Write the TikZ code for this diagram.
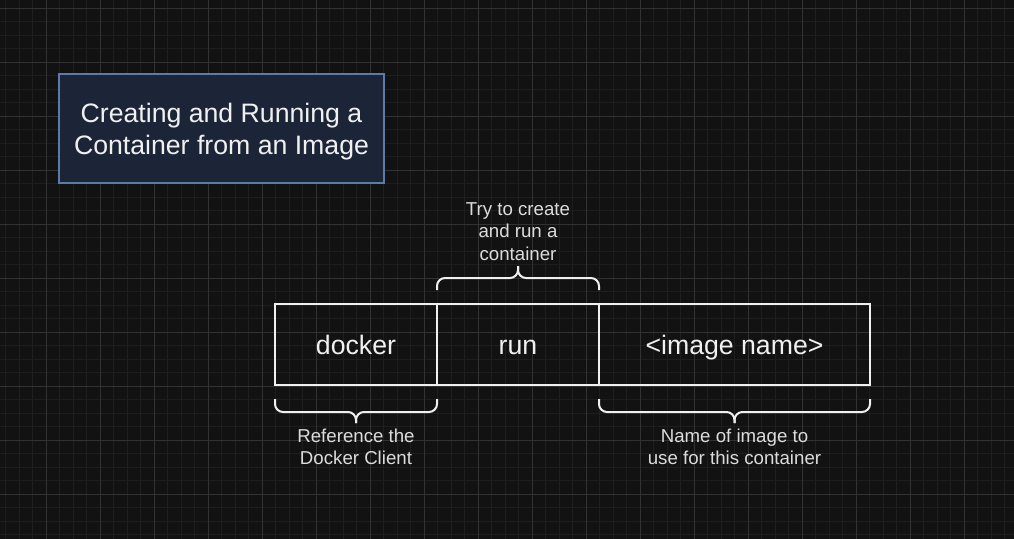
\documentclass[tikz,border=0pt]{standalone}
\usepackage{fontspec}
\setmainfont{Liberation Sans}
\usetikzlibrary{positioning,calc}
\definecolor{bgcol}{HTML}{121212}
\definecolor{minorcol}{HTML}{1E1E1E}
\definecolor{majorcol}{HTML}{323232}
\definecolor{titlefill}{HTML}{1C2538}
\definecolor{titledraw}{HTML}{5B7BAB}
\definecolor{inkcol}{HTML}{F0F0F0}
\definecolor{notecol}{HTML}{DCDCDC}

\begin{document}
\begin{tikzpicture}%
  [x=0.75pt,y=-0.75pt,
   brace line/.style={draw=inkcol,line width=1.5pt,rounded corners=6pt}]
  \tikzstyle{title box}=[rectangle,draw=titledraw,fill=titlefill,line width=1.5pt,
    minimum width=243.75pt,minimum height=81.75pt,align=center,text=inkcol,
    font=\fontsize{20}{24}\selectfont]
  \tikzstyle{word box}=[rectangle,draw=inkcol,line width=1.5pt,outer sep=0pt,
    minimum height=60.75pt,text=inkcol,text height=14.4pt,text depth=0pt,
    font=\fontsize{20}{24}\selectfont]
  \tikzstyle{note}=[align=center,inner sep=0pt,text=notecol,
    font=\fontsize{14}{16.8}\selectfont]
  \useasboundingbox (0,0) rectangle (1014,539);
  \fill[bgcol] (0,0) rectangle (1014,539);
  % grid
  \foreach \i in {0,...,76}
    \draw[minorcol,line width=0.75pt] ({-8+13.5*\i},0) -- ({-8+13.5*\i},539);
  \foreach \i in {0,...,41}
    \draw[minorcol,line width=0.75pt] (0,{-5.5+13.5*\i}) -- (1014,{-5.5+13.5*\i});
  \foreach \i in {0,...,19}
    \draw[majorcol,line width=0.75pt] ({-8+54*\i},0) -- ({-8+54*\i},539);
  \foreach \i in {0,...,9}
    \draw[majorcol,line width=0.75pt] (0,{8+54*\i}) -- (1014,{8+54*\i});
  % title
  \node(title)[title box] at (221.5,128.5)
    {\rule{0pt}{19pt}Creating and Running a\\Container from an Image};
  % command parts
  \node(docker)[word box,minimum width=121.5pt] at (356,344.5){docker};
  \node(run)[word box,minimum width=121.5pt,right=0pt of docker]{run};
  \node(image)[word box,minimum width=203.25pt,right=0pt of run]{<image name>};
  % braces
  \draw[brace line] ($(run.north west)+(0,-14)$) |- ($(run.north)+(0,-26)$)
    -- ++(0,-12) coordinate(run tip);
  \draw[brace line] ($(run.north east)+(0,-14)$) |- ($(run.north)+(0,-26)$)
    -- ++(0,-12);
  \draw[brace line] ($(docker.south west)+(0,14)$) |- ($(docker.south)+(0,27)$)
    -- ++(0,11) coordinate(docker tip);
  \draw[brace line] ($(docker.south east)+(0,14)$) |- ($(docker.south)+(0,27)$)
    -- ++(0,11);
  \draw[brace line] ($(image.south west)+(0,14)$) |- ($(image.south)+(0,27)$)
    -- ++(0,11) coordinate(image tip);
  \draw[brace line] ($(image.south east)+(0,14)$) |- ($(image.south)+(0,27)$)
    -- ++(0,11);
  % notes
  \node(run note)[note,above=4pt of run tip]{Try to create\\and run a\\container};
  \node(docker note)[note,below=4pt of docker tip]{Reference the\\Docker Client};
  \node(image note)[note,below=4pt of image tip]{Name of image to\\use for this container};
\end{tikzpicture}
\end{document}
